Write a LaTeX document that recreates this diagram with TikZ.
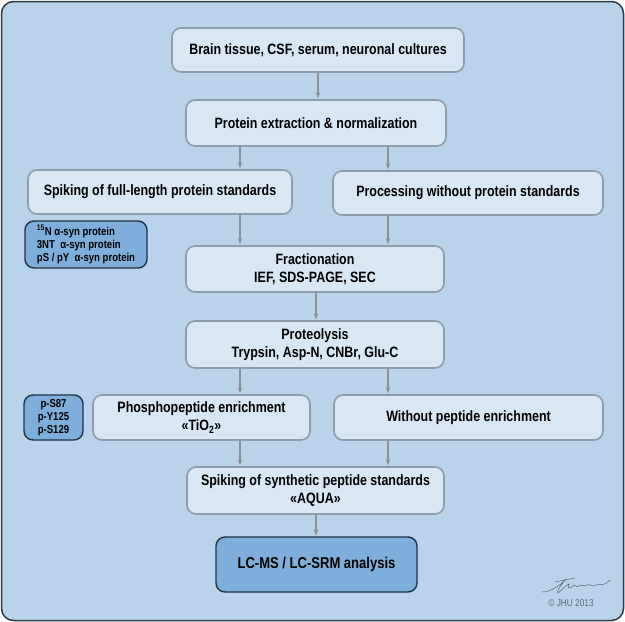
\documentclass[tikz,border=0pt]{standalone}
\usepackage{fontspec}
\setmainfont[FakeStretch=0.83]{Liberation Sans}
\usetikzlibrary{arrows.meta}
\definecolor{bg}{HTML}{B8D3EA}
\definecolor{boxfill}{HTML}{D9E7F4}
\definecolor{boxline}{HTML}{8D9CAA}
\definecolor{darkfill}{HTML}{7DAFDA}
\definecolor{darkline}{HTML}{1F3347}
\definecolor{arrowc}{HTML}{8A9096}
\definecolor{framec}{HTML}{2E3B48}
\begin{document}
\begin{tikzpicture}[x=1pt,y=-1pt,
  stepbox/.style={draw=boxline, line width=1.6pt, fill=boxfill, rounded corners=9pt,
    font=\bfseries\fontsize{15}{18}\selectfont, align=center, inner sep=0pt},
  darkbox/.style={draw=darkline, line width=1.4pt, fill=darkfill, rounded corners=9pt,
    font=\bfseries\fontsize{11.5}{13}\selectfont, inner sep=0pt},
  conn/.style={draw=arrowc, line width=1.1pt, -{Stealth[length=6pt,width=4.5pt]}, shorten >=1pt}]
\useasboundingbox (0,0) rectangle (625,622);
\fill[white] (0,0) rectangle (625,622);
\draw[framec, fill=bg, line width=1.5pt, rounded corners=12pt] (1.5,1.5) rectangle (623.5,620.5);

\coordinate (L) at (240,0);
\coordinate (R) at (388,0);
\coordinate (M) at (316,0);

\node[stepbox, minimum width=292pt, minimum height=44pt] (n1) at (318,50) {Brain tissue, CSF, serum, neuronal cultures};
\node[stepbox, minimum width=260pt, minimum height=46pt] (n2) at (316,123) {Protein extraction \& normalization};
\node[stepbox, minimum width=264pt, minimum height=44pt] (n3) at (160,192) {Spiking of full-length protein standards};
\node[stepbox, minimum width=270pt, minimum height=44pt] (n4) at (468,193) {Processing without protein standards};
\node[darkbox, minimum width=122pt, minimum height=47pt, align=left] (d1) at (86,244.5) {\textsuperscript{15}N α-syn protein\\3NT\ \ α-syn protein\\pS / pY\ \ α-syn protein};
\node[stepbox, minimum width=258pt, minimum height=46pt] (n5) at (315,269) {Fractionation\\IEF, SDS-PAGE, SEC};
\node[stepbox, minimum width=258pt, minimum height=47pt] (n6) at (315,344.5) {Proteolysis\\Trypsin, Asp-N, CNBr, Glu-C};
\node[darkbox, minimum width=59pt, minimum height=45pt, align=center] (d2) at (53.5,417.5) {p-S87\\p-Y125\\p-S129};
\node[stepbox, minimum width=217pt, minimum height=45pt] (n7) at (201.5,417.5) {Phosphopeptide enrichment\\«TiO\textsubscript{2}»};
\node[stepbox, minimum width=269pt, minimum height=45pt] (n8) at (468.5,417.5) {Without peptide enrichment};
\node[stepbox, minimum width=257pt, minimum height=47pt] (n9) at (315.5,490.5) {Spiking of synthetic peptide standards\\«AQUA»};
\node[darkbox, minimum width=201pt, minimum height=55pt, font=\bfseries\fontsize{15.7}{18}\selectfont] (n10) at (316.5,564.5) {LC-MS / LC-SRM analysis};

\draw[conn] (n1.south) -- (n2.north -| n1.south);
\draw[conn] (n2.south -| L) -- (n3.north -| L);
\draw[conn] (n2.south -| R) -- (n4.north -| R);
\draw[conn] (n3.south -| L) -- (n5.north -| L);
\draw[conn] (n4.south -| R) -- (n5.north -| R);
\draw[conn] (n5.south -| M) -- (n6.north -| M);
\draw[conn] (n6.south -| L) -- (n7.north -| L);
\draw[conn] (n6.south -| R) -- (n8.north -| R);
\draw[conn] (n7.south -| L) -- (n9.north -| L);
\draw[conn] (n8.south -| R) -- (n9.north -| R);
\draw[conn] (n9.south -| M) -- (n10.north -| M);

% signature
\draw[framec!80, line width=0.5pt, line cap=round]
  (542,592) .. controls (550,592) and (560,586) .. (566,579)
  .. controls (560,586) and (556,592) .. (558,593)
  .. controls (562,590) and (566,585) .. (569,584)
  .. controls (567,588) and (569,590) .. (573,586)
  .. controls (575,584) and (576,588) .. (579,586)
  .. controls (582,583) and (583,588) .. (587,585)
  .. controls (590,583) and (592,588) .. (596,585)
  .. controls (600,583) and (602,588) .. (610,580);
\draw[framec!80, line width=0.5pt, line cap=round] (555,582) -- (575,578);
\node[font=\fontsize{10}{12}\selectfont, text=framec!75, inner sep=0pt] (copy) at (571,603) {© JHU 2013};
\end{tikzpicture}
\end{document}
